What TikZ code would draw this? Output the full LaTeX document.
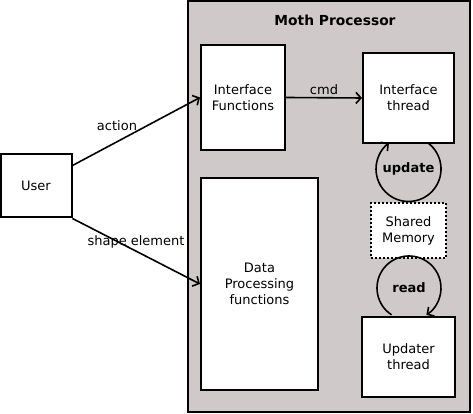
\documentclass[tikz,border=0pt]{standalone}
\usepackage{fontspec}
\setmainfont{DejaVu Sans}
\usetikzlibrary{arrows.meta, positioning, calc}
\definecolor{mothgray}{RGB}{208,201,201}
\newcommand{\diagfont}{\fontsize{13}{16}\selectfont}
\tikzset{
  procbox/.style={draw, line width=2pt, fill=white, align=center,
                  font=\diagfont, inner sep=0pt},
  memboxd/.style={draw, dotted, line width=2pt, fill=white, align=center,
                  font=\diagfont, inner sep=0pt},
  framebox/.style={draw, line width=1.6pt, fill=mothgray, inner sep=0pt},
  linkarr/.style={-{Straight Barb[length=5pt, width=11pt]}, line width=1.6pt},
  linklbl/.style={font=\diagfont, inner sep=1pt},
  looplbl/.style={font=\diagfont\bfseries, inner sep=0pt},
}

\begin{document}
\begin{tikzpicture}[x=1pt, y=1pt]
      \useasboundingbox (0,0) rectangle (473,414);

      % outer processor frame
      \node[framebox, minimum width=282, minimum height=411] (moth) at (329,207.5) {};
      \node[font=\fontsize{13.8}{16}\selectfont\bfseries] (mothttl) at (335,394) {Moth Processor};

      \node[procbox, minimum width=71, minimum height=63] (user) at (36,228) {User};
      \node[procbox, minimum width=84, minimum height=105] (ifunc) at (243,316.5) {Interface\\Functions};
      \node[procbox, minimum width=91, minimum height=90] (ithread) at (408.5,316) {Interface\\thread};
      \node[procbox, minimum width=117, minimum height=212] (dproc) at (259.5,130) {Data\\Processing\\functions};
      \node[memboxd, minimum width=75, minimum height=55] (shmem) at (408.5,183) {Shared\\Memory};
      \node[procbox, minimum width=93, minimum height=80] (uthread) at (408.5,57) {Updater\\thread};

      % connectors
      \draw[linkarr] ([yshift=-12pt]user.north east) -- (ifunc.west);
      \draw[linkarr] (user.south east) -- (dproc.west);
      \draw[linkarr] (ifunc.east) -- (ithread.west);

      \node[linklbl] (actlbl) at (117,288) {action};
      \node[linklbl] (shplbl) at (136,172) {shape element};
      \node[linklbl] (cmdlbl) at (324,324) {cmd};

      % loops
      \node[looplbl] (upd) at (408.5,245) {update};
      \node[looplbl] (rd) at (409,126) {read};
      \draw[linkarr] ([shift={(53:32.5)}]upd.center) arc[start angle=53, end angle=-233, radius=32.5];
      \draw[linkarr] ([shift={(-123:32)}]rd.center) arc[start angle=-123, end angle=-417, radius=32];
    \end{tikzpicture}
\end{document}
